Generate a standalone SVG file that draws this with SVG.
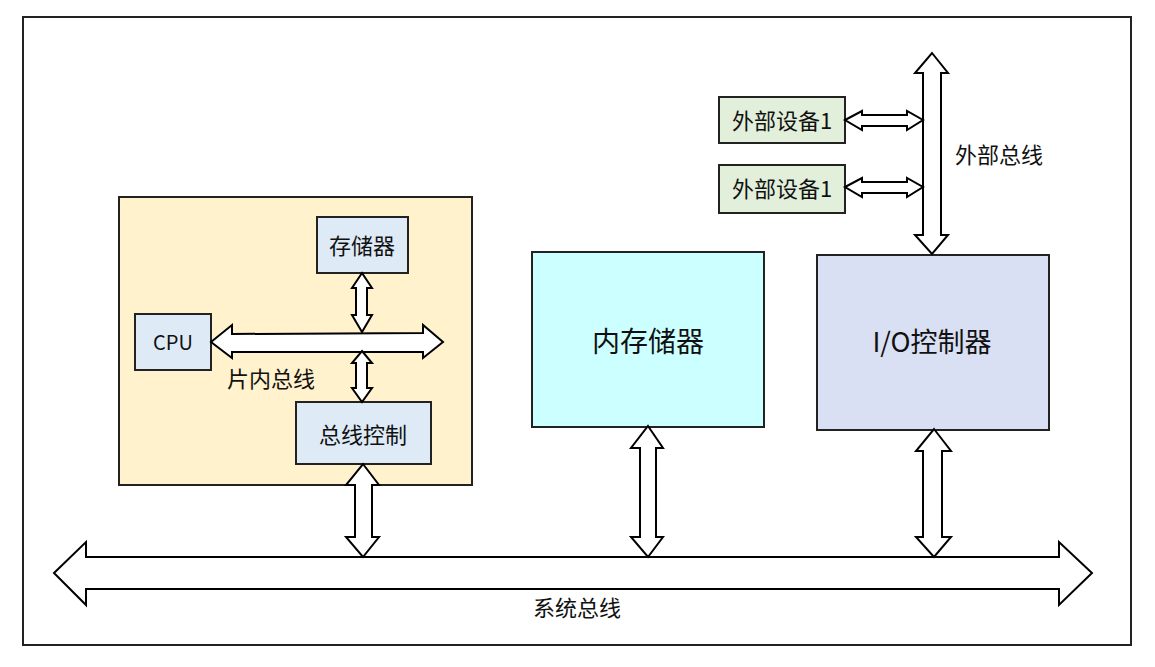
<svg xmlns="http://www.w3.org/2000/svg" width="1155" height="667" viewBox="0 0 1155 667">
<style>
.box{stroke:#222;stroke-width:2}
.arr{fill:#fff;stroke:#000;stroke-width:2;stroke-linejoin:miter}
text{font-family:"Noto Sans CJK SC","Noto Sans",sans-serif;fill:#111;text-anchor:middle;dominant-baseline:central}
</style>
<rect x="0" y="0" width="1155" height="667" fill="#fff"/>
<rect id="frame" x="23" y="17" width="1108" height="628" fill="#fff" stroke="#222" stroke-width="2"/>
<g id="chip">
<rect class="box" x="119" y="197" width="353" height="288" fill="#FFF2CC"/>
<text x="271" y="377" font-size="22">片内总线</text>
</g>
<g id="storage">
<rect class="box" x="317" y="217" width="91" height="56" fill="#DEEBF7"/>
<text x="362" y="244" font-size="22">存储器</text>
</g>
<g id="cpu">
<rect class="box" x="135" y="314" width="76" height="56" fill="#DEEBF7"/>
<text x="173" y="341" font-size="20">CPU</text>
</g>
<g id="buscontrol">
<rect class="box" x="296" y="402" width="135" height="62" fill="#DEEBF7"/>
<text x="363" y="433" font-size="22">总线控制</text>
</g>
<g id="memory">
<rect class="box" x="532" y="252" width="232" height="175" fill="#CCFFFF"/>
<text x="648" y="340" font-size="28">内存储器</text>
</g>
<g id="io">
<rect class="box" x="817" y="255" width="232" height="175" fill="#DAE0F3"/>
<text x="932" y="340" font-size="27">I/O控制器</text>
</g>
<g id="dev1">
<rect class="box" x="719" y="97" width="126" height="46" fill="#E2EFDA"/>
<text x="782" y="119" font-size="22">外部设备1</text>
</g>
<g id="dev2">
<rect class="box" x="719" y="165" width="126" height="48" fill="#E2EFDA"/>
<text x="782" y="187" font-size="22">外部设备1</text>
</g>
<g id="connectors">
<polygon class="arr" points="54,573 86,542 86,557 1059,557 1059,542 1092,573 1059,605 1059,589 86,589 86,605"/>
<polygon class="arr" points="211,342 232,325 232,334 423,333 423,325 443,342 423,358 423,352 232,352 232,358"/>
<polygon class="arr" points="362,273 372,288 367,288 367,315 372,315 362,332 352,315 356,315 356,288 352,288"/>
<polygon class="arr" points="362,351 372,363 367,363 367,388 372,388 362,402 352,388 356,388 356,363 352,363"/>
<polygon class="arr" points="363,464 379,485 372,485 372,537 379,537 363,557 346,537 355,537 355,485 346,485"/>
<polygon class="arr" points="648,426 663,448 656,448 656,537 663,537 648,557 631,537 640,537 640,448 631,448"/>
<polygon class="arr" points="934,429 951,451 942,451 942,537 951,537 934,557 916,537 923,537 923,451 916,451"/>
<polygon class="arr" points="932,53 948,73 941,73 941,235 948,235 932,254 915,235 923,235 923,73 915,73"/>
<polygon class="arr" points="845,120 862,111 862,115 907,115 907,111 923,120 907,130 907,126 862,126 862,130"/>
<polygon class="arr" points="845,187 862,178 862,182 907,182 907,178 923,187 907,197 907,193 862,193 862,197"/>
<text x="999" y="153" font-size="22">外部总线</text>
<text x="577" y="606" font-size="22">系统总线</text>
</g>
</svg>
